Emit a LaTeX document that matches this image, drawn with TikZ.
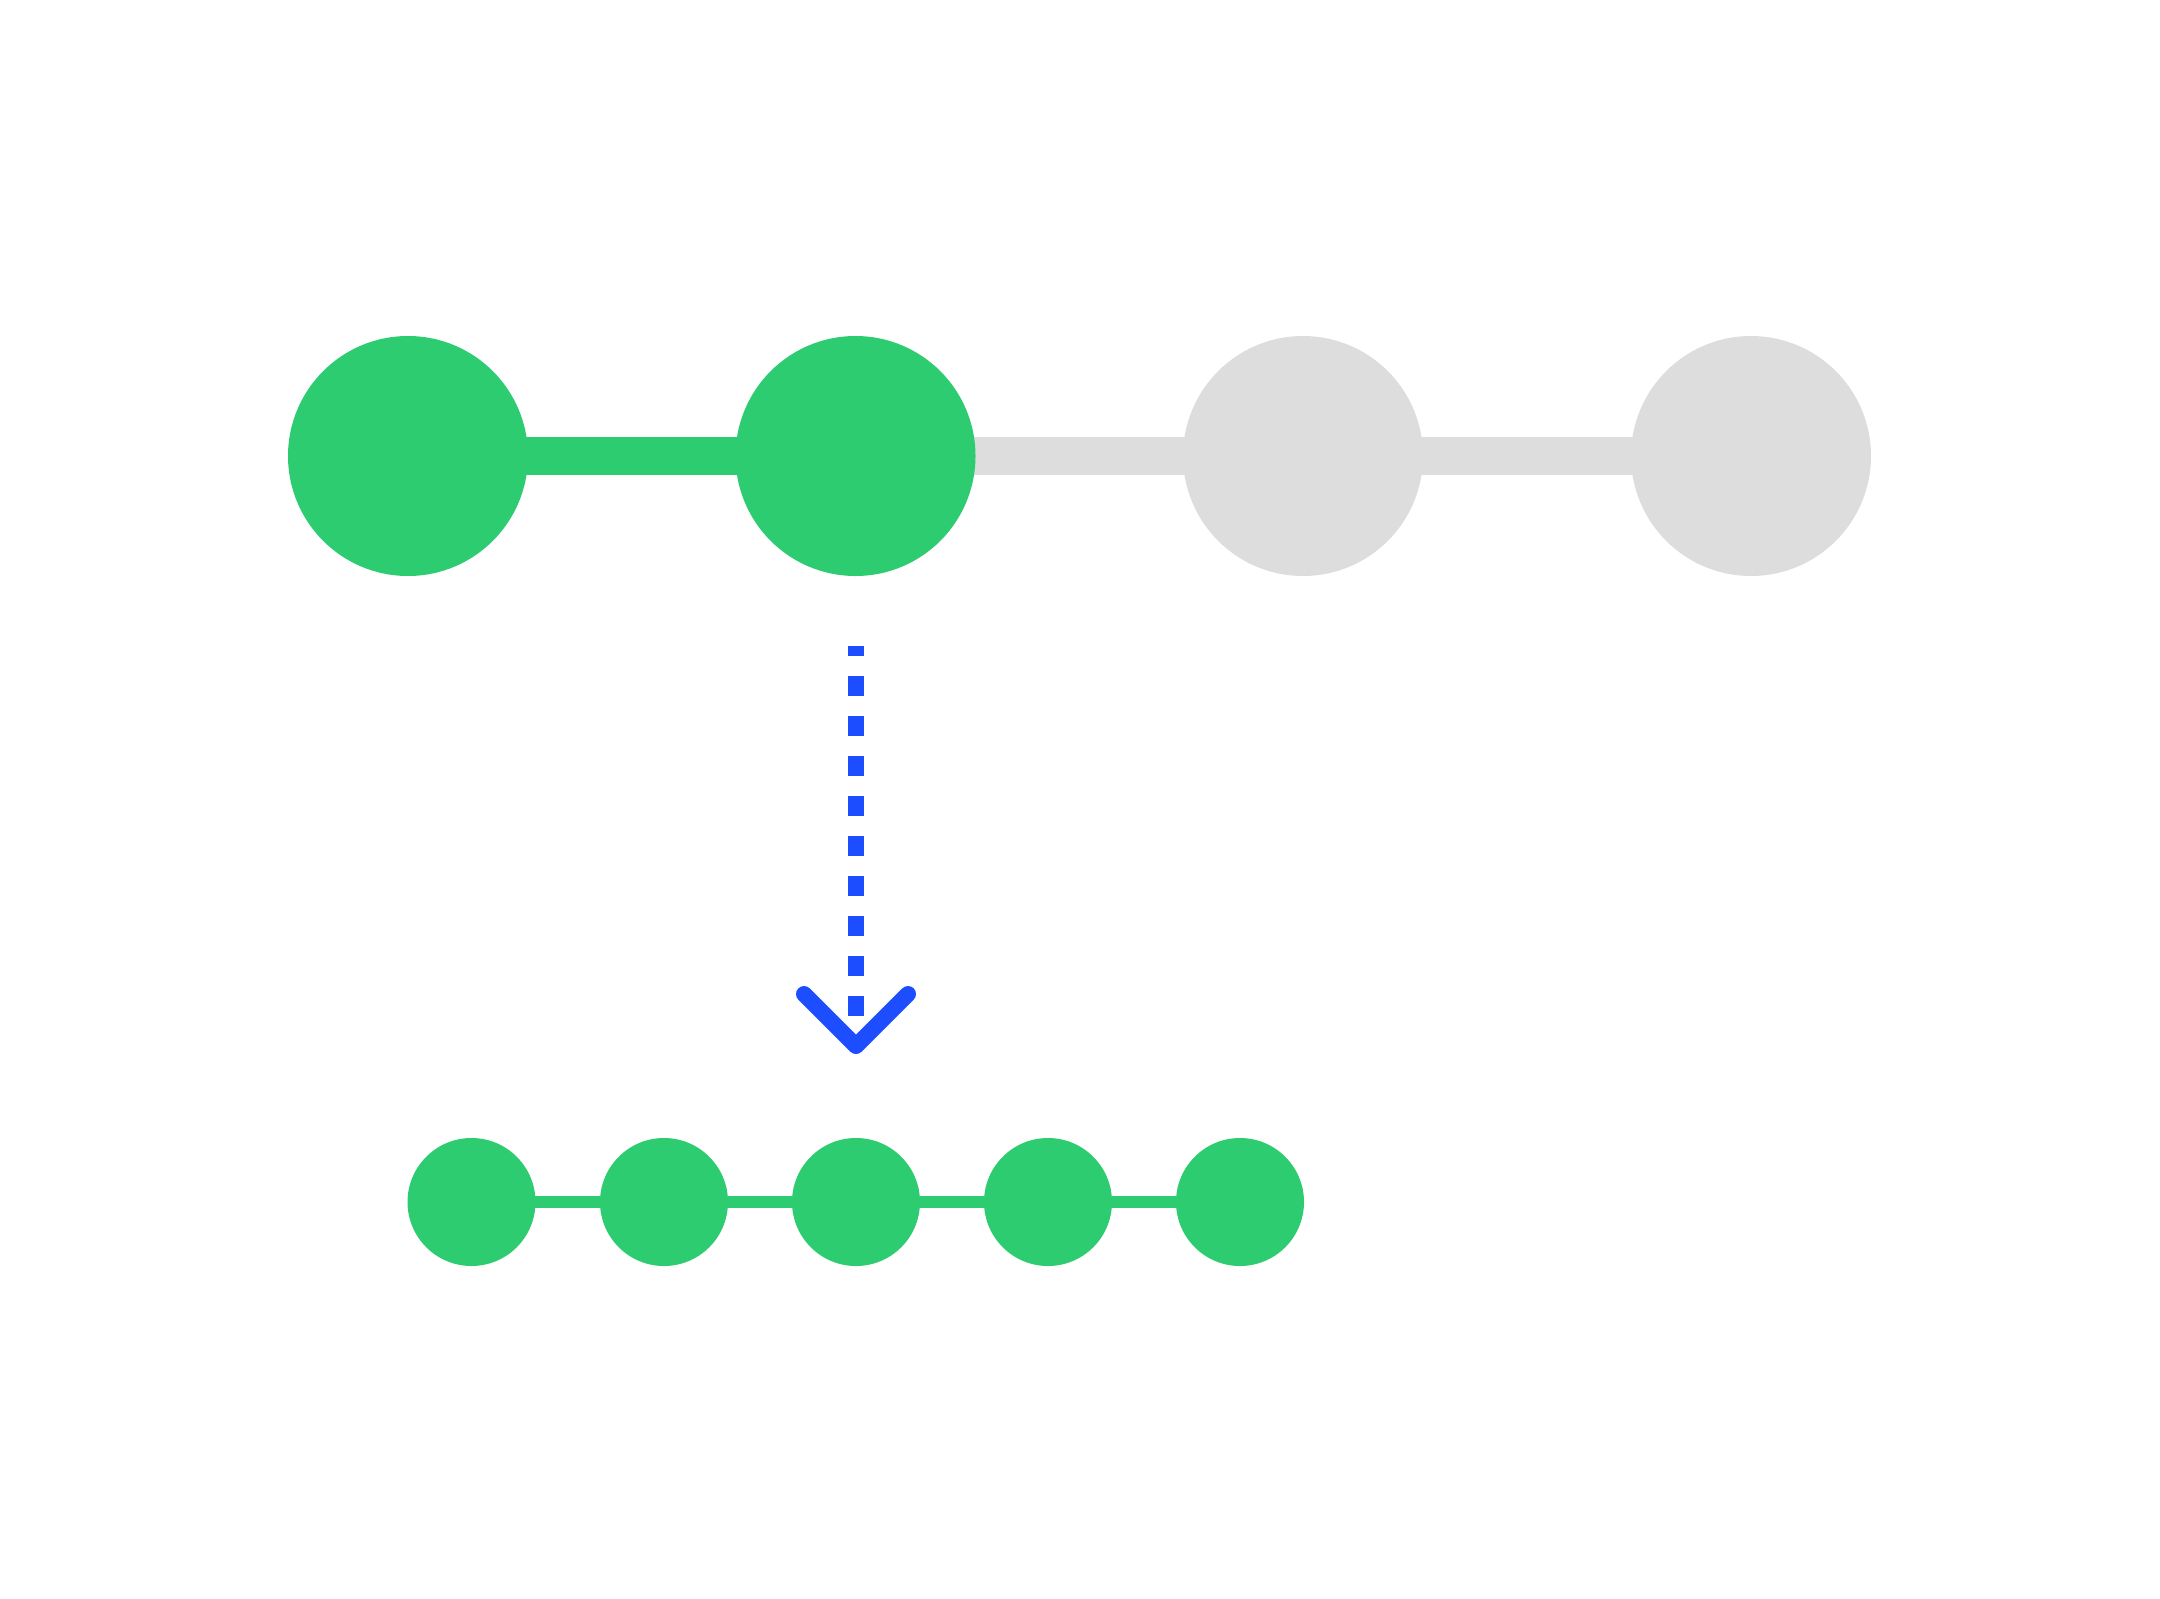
\documentclass[tikz,border=0pt]{standalone}
\usetikzlibrary{backgrounds}
\definecolor{dotgreen}{HTML}{2ECC71}
\definecolor{dotgray}{HTML}{DDDDDD}
\definecolor{arrblue}{HTML}{1C4DFF}
\begin{document}
\begin{tikzpicture}[x=1pt,y=-1pt,
  bigdot/.style={circle,inner sep=0pt,minimum size=240pt,fill=#1},
  smalldot/.style={circle,inner sep=0pt,minimum size=128pt,fill=dotgreen},
  bigline/.style={line width=38pt,draw=#1},
  smallline/.style={line width=12pt,draw=dotgreen},
  dashline/.style={draw=arrblue,line width=16pt,dash pattern=on 20pt off 20pt,dash phase=10pt},
  chevron/.style={draw=arrblue,line width=16pt,line cap=round,line join=round}]
\path[use as bounding box] (0,0) rectangle (2160,1598);
% top row
\node[bigdot=dotgreen] (t1) at (408,456) {};
\node[bigdot=dotgreen] (t2) at (855.5,456) {};
\node[bigdot=dotgray] (t3) at (1303,456) {};
\node[bigdot=dotgray] (t4) at (1751,456) {};
% bottom row
\node[smalldot] (b1) at (471.5,1202) {};
\node[smalldot] (b2) at (664,1202) {};
\node[smalldot] (b3) at (856,1202) {};
\node[smalldot] (b4) at (1048,1202) {};
\node[smalldot] (b5) at (1240,1202) {};
\begin{pgfonlayer}{background}
\draw[bigline=dotgreen] (t1.center) -- (t2.center);
\draw[bigline=dotgray] (t2.center) -- (t3.center) -- (t4.center);
\draw[smallline] (b1.center) -- (b2.center) -- (b3.center) -- (b4.center) -- (b5.center);
\end{pgfonlayer}
% arrow
\coordinate (aS) at (856,646);
\coordinate (aE) at (856,1016);
\coordinate (cL) at (804,994);
\coordinate (cA) at (856,1046);
\coordinate (cR) at (908,994);
\draw[dashline] (aS) -- (aE);
\draw[chevron] (cL) -- (cA) -- (cR);
\end{tikzpicture}
\end{document}
